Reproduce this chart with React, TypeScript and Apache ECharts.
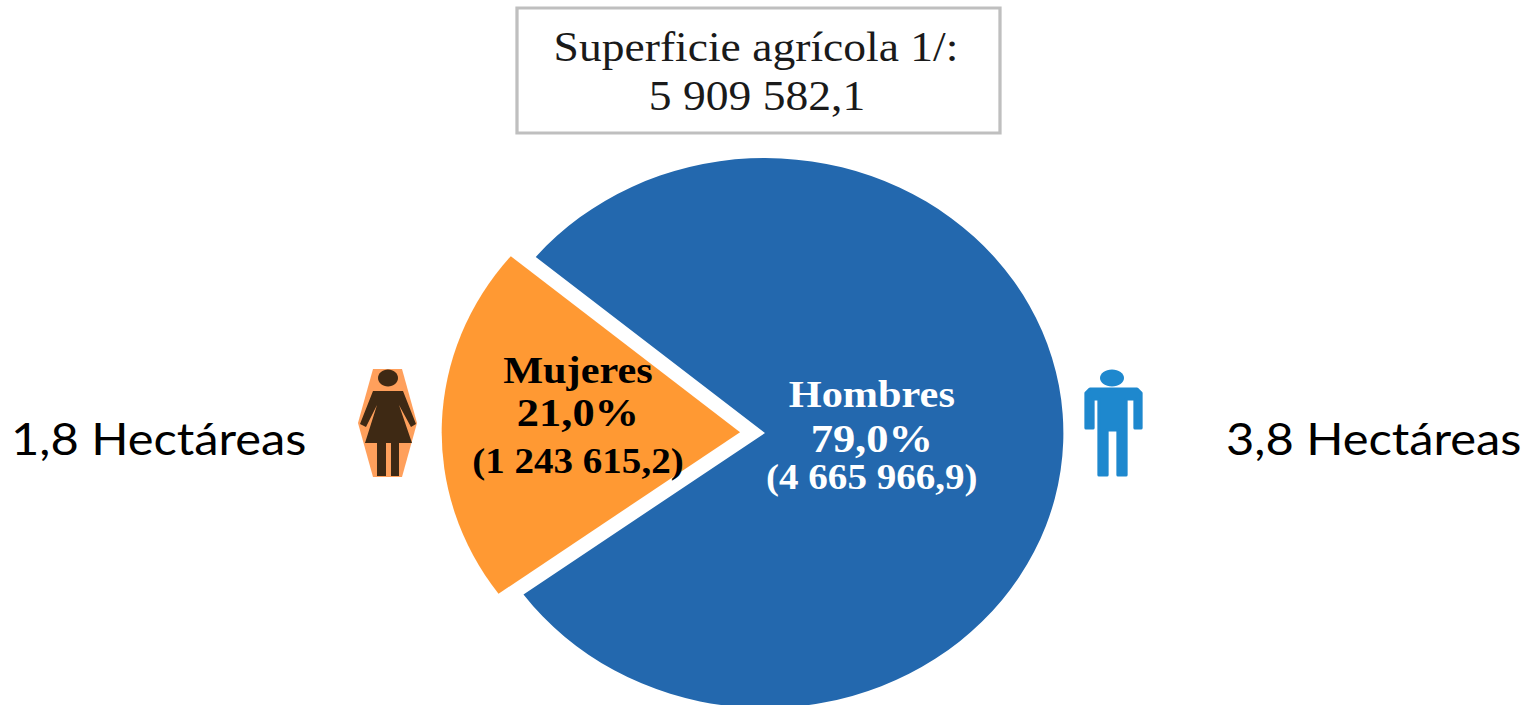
import React, { useEffect, useRef } from "react";
import * as echarts from "echarts";

const categories = ["Hombres", "Mujeres"];
const hectares = [4665966.9, 1243615.2];
const sliceColors = ["#2368AE", "#FF9933"];
const labelColors = ["#FFFFFF", "#000000"];
const titleLines = ["Superficie agrícola 1/:", "5 909 582,1"];
const averageLabels = ["1,8 Hectáreas", "3,8 Hectáreas"];

const SX = 1.085;
const W = 1535 / SX;
const sx = (x: number) => x / SX;
const pts = (a: number[][]) => a.map(([x, y]) => [sx(x), y]);

const fmt = (v: number) => {
  const [i, d] = v.toFixed(1).split(".");
  return i.replace(/\B(?=(\d{3})+$)/g, " ") + "," + d;
};

const womanHex = [[373, 369], [402, 369], [417, 423], [402, 477], [373, 477], [358, 423]];
const womanBody = [[373, 391], [403, 391], [416, 424], [411, 427], [399, 405], [412, 443], [399, 443], [399, 476], [391, 476], [391, 443], [386, 443], [386, 476], [377, 476], [377, 443], [365, 443], [377, 405], [366, 427], [360, 424]];
const manBody = [[1090, 389], [1137, 389], [1141, 393], [1141, 428], [1135, 428], [1135, 399], [1126, 399], [1126, 475], [1118, 475], [1118, 430], [1107, 430], [1107, 475], [1099, 475], [1099, 399], [1093, 399], [1093, 428], [1086, 428], [1086, 393]];

export default function App() {
  const ref = useRef<HTMLDivElement>(null);
  useEffect(() => {
    document.body.style.margin = "0";
    document.documentElement.style.overflow = "hidden";
    document.body.style.overflow = "hidden";
    const chart = echarts.init(ref.current!, undefined, { renderer: "svg" });
    const serif = "'Liberation Serif'";
    const titleStyle = { fontFamily: serif, fontSize: 42, fill: "#1a1a1a", textAlign: "center", textVerticalAlign: "middle" };
    const sideStyle = { fontFamily: "Lato", fontSize: 45, fill: "#000000", textVerticalAlign: "middle" };
    chart.setOption({
      animation: false,
      backgroundColor: "#ffffff",
      series: [
        {
          type: "pie",
          center: [sx(765), 433],
          radius: [0, 275],
          startAngle: 140.2,
          clockwise: true,
          selectedMode: "multiple",
          selectedOffset: 23,
          silent: true,
          data: categories.map((name, i) => ({
            name,
            value: hectares[i],
            selected: i === 1,
            itemStyle: { color: sliceColors[i] },
            select: { itemStyle: { color: sliceColors[i] } },
            label: {
              color: labelColors[i],
              rich: {
                n: { fontFamily: serif, fontWeight: "bold", fontSize: 39, lineHeight: i === 0 ? 44 : 40, color: labelColors[i], align: "center" },
                p: { fontFamily: serif, fontWeight: "bold", fontSize: 41, lineHeight: 44, color: labelColors[i], align: "center" },
                v: { fontFamily: serif, fontWeight: "bold", fontSize: 36, lineHeight: i === 0 ? 34 : 54, color: labelColors[i], align: "center" },
              },
            },
          })),
          label: {
            show: true,
            position: "inside",
            formatter: (p: any) =>
              `{n|${p.name}}\n{p|${p.percent.toFixed(1).replace(".", ",")}%}\n{v|(${fmt(p.value)})}`,
          },
          labelLine: { show: false },
          labelLayout: (p: any) => (p.dataIndex === 0 ? { dx: -42, dy: -5 } : { dx: -9, dy: -8 }),
          percentPrecision: 2,
        },
      ],
      graphic: [
        { type: "rect", z: 10, shape: { x: sx(517), y: 8, width: sx(483), height: 125 }, style: { fill: "#ffffff", stroke: "#BFBFBF", lineWidth: 3 } },
        { type: "text", z: 11, x: sx(756), y: 47, style: { ...titleStyle, text: titleLines[0] } },
        { type: "text", z: 11, x: sx(757), y: 96, style: { ...titleStyle, text: titleLines[1] } },
        { type: "text", z: 11, x: sx(11), y: 438, style: { ...sideStyle, text: averageLabels[0] } },
        { type: "text", z: 11, x: sx(1226), y: 438, style: { ...sideStyle, text: averageLabels[1] } },
        { type: "polygon", z: 10, shape: { points: pts(womanHex) }, style: { fill: "#FFA05C" } },
        { type: "ellipse", z: 11, shape: { cx: sx(388), cy: 378, rx: sx(10), ry: 8.5 }, style: { fill: "#3E2914" } },
        { type: "polygon", z: 11, shape: { points: pts(womanBody) }, style: { fill: "#3E2914" } },
        { type: "ellipse", z: 11, shape: { cx: sx(1112), cy: 378, rx: sx(12), ry: 8.5 }, style: { fill: "#1E88CE" } },
        { type: "polygon", z: 11, shape: { points: pts(manBody) }, style: { fill: "#1E88CE", stroke: "#1E88CE", lineWidth: 3, lineJoin: "round" } },
      ],
    });
    return () => chart.dispose();
  }, []);
  return (
    <div
      ref={ref}
      style={{ width: W, height: 705, transform: `scaleX(${SX})`, transformOrigin: "0 0" }}
    />
  );
}
